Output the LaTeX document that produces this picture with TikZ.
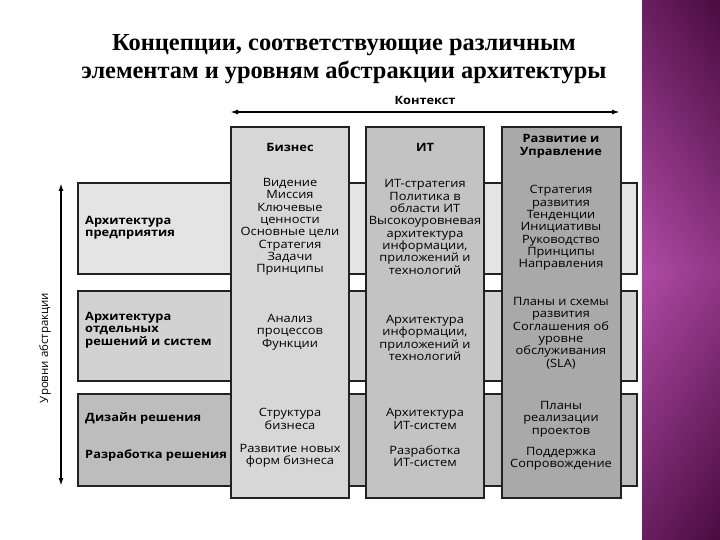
\documentclass[tikz,border=0pt]{standalone}
\usepackage{fontspec}
\setmainfont{Liberation Serif}
\newfontfamily\diagfont[FakeStretch=1.12]{Open Sans}
\newfontfamily\sidefont{Open Sans}
\usetikzlibrary{arrows.meta}
\definecolor{rowEnt}{HTML}{E4E4E4}
\definecolor{rowSol}{HTML}{D2D2D2}
\definecolor{rowDev}{HTML}{BDBDBD}
\definecolor{colBiz}{HTML}{D7D7D7}
\definecolor{colIT}{HTML}{C3C3C3}
\definecolor{colGov}{HTML}{A9A9A9}
\definecolor{plumDark}{HTML}{4A0C40}
\definecolor{plumMid}{HTML}{8A3A80}
\definecolor{plumLight}{HTML}{B04BA6}
\definecolor{edge}{HTML}{222222}

\begin{document}
\begin{tikzpicture}[x=1bp,y=-1bp,
  box/.style={draw=edge,line width=1.1bp},
  cell/.style={align=center,inner sep=0pt,font=\diagfont\fontsize{11.5}{12.4}\selectfont},
  head/.style={cell,font=\diagfont\bfseries\fontsize{11.5}{12.8}\selectfont},
  side/.style={align=left,anchor=west,inner sep=0pt,font=\diagfont\bfseries\fontsize{11.5}{12.4}\selectfont},
  both/.style={{Latex[length=8bp,width=5bp]}-{Latex[length=8bp,width=5bp]},line width=1.6bp}]
  \useasboundingbox (0,0) rectangle (720,540);
  % side strip
  \shade[top color=plumDark,bottom color=plumLight] (642,0) rectangle (720,272);
  \shade[top color=plumLight,bottom color=plumDark] (642,270) rectangle (720,540);
  \shade[left color=plumLight,right color=plumDark,opacity=0.3] (642,0) rectangle (720,540);
  % title
  \node[align=center,font=\bfseries\fontsize{24.5}{28}\selectfont] (title) at (344,59)
    {Концепции, соответствующие различным\\элементам и уровням абстракции архитектуры};
  % levels (rows)
  \draw[box,fill=rowEnt] (78,183) rectangle (637,274);
  \draw[box,fill=rowSol] (78,291) rectangle (637,381);
  \draw[box,fill=rowDev] (78,394) rectangle (637,486);
  % concerns (columns)
  \draw[box,fill=colBiz] (231,127) rectangle (349,498);
  \draw[box,fill=colIT]  (366,127) rectangle (484,498);
  \draw[box,fill=colGov] (502,127) rectangle (621,498);
  % axes
  \coordinate (ctxL) at (230,112);  \coordinate (ctxR) at (620,112);
  \draw[both] (ctxL) -- (ctxR);
  \node[head] (ctx) at (425,100) {Контекст};
  \coordinate (lvTop) at (61,183);  \coordinate (lvBot) at (61,486);
  \draw[both] (lvBot) -- (lvTop);
  \node[rotate=90,inner sep=0pt,font=\sidefont\fontsize{11.5}{12.4}\selectfont] (levels) at (45,348) {Уровни абстракции};
  % row labels
  \node[side] (entArch) at (85,228) {Архитектура\\предприятия};
  \node[side] (solArch) at (85,330) {Архитектура\\отдельных\\решений и систем};
  \node[side] (solDes)  at (85,418) {Дизайн решения};
  \node[side] (solDev)  at (85,455) {Разработка решения};
  % business
  \node[head] (bizHead) at (290,147) {Бизнес};
  \node[cell] (bizEnt) at (290,227) {Видение\\Миссия\\Ключевые\\ценности\\Основные цели\\Стратегия\\Задачи\\Принципы};
  \node[cell] (bizSol) at (290,332) {Анализ\\процессов\\Функции};
  \node[cell] (bizDes) at (290,419) {Структура\\бизнеса};
  \node[cell] (bizDev) at (290,456) {Развитие новых\\форм бизнеса};
  % IT
  \node[head] (itHead) at (425,147) {ИТ};
  \node[cell] (itEnt) at (425,227) {ИТ-стратегия\\Политика в\\области ИТ\\Высокоуровневая\\архитектура\\информации,\\приложений и\\технологий};
  \node[cell] (itSol) at (425,338) {Архитектура\\информации,\\приложений и\\технологий};
  \node[cell] (itDes) at (425,419) {Архитектура\\ИТ-систем};
  \node[cell] (itDev) at (425,456) {Разработка\\ИТ-систем};
  % governance
  \node[head] (govHead) at (561,146) {Развитие и\\Управление};
  \node[cell] (govEnt) at (561,228) {Стратегия\\развития\\Тенденции\\Инициативы\\Руководство\\Принципы\\Направления};
  \node[cell] (govSol) at (561,333) {Планы и схемы\\развития\\Соглашения об\\уровне\\обслуживания\\(SLA)};
  \node[cell] (govDes) at (561,419) {Планы\\реализации\\проектов};
  \node[cell] (govDev) at (561,459) {Поддержка\\Сопровождение};
\end{tikzpicture}
\end{document}
